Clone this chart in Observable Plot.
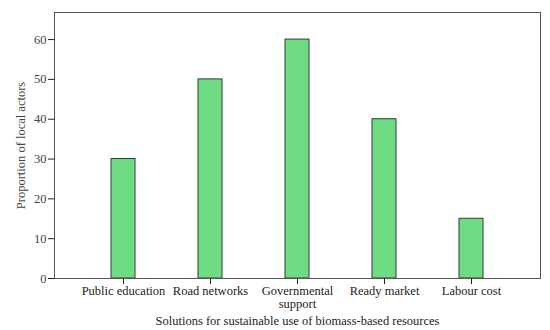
<!DOCTYPE html>
<html>
<head>
<meta charset="utf-8">
<script src="https://cdn.jsdelivr.net/npm/d3@7"></script>
<script src="https://cdn.jsdelivr.net/npm/@observablehq/plot@0.6"></script>
<style>
  html, body { margin: 0; padding: 0; background: white; }
</style>
</head>
<body>
<div id="chart"></div>
<script>
const categories = ["Public education", "Road networks", "Governmental support", "Ready market", "Labour cost"];
const values = [30, 50, 60, 40, 15];
const tickLabels = ["Public education", "Road networks", "Governmental\nsupport", "Ready market", "Labour cost"];
const yTicks = [0, 10, 20, 30, 40, 50, 60];

const data = categories.map((c, i) => ({category: c, value: values[i]}));

const chart = Plot.plot({
  width: 550,
  height: 330,
  marginLeft: 54,
  marginRight: 10,
  marginTop: 12,
  marginBottom: 52,
  style: {fontFamily: "'Liberation Serif', 'DejaVu Serif', serif", fontSize: "12.5px", background: "white", color: "#222"},
  x: {domain: categories, paddingInner: 0.724, paddingOuter: 0.655, label: null},
  y: {domain: [0, 66.8]},
  marks: [
    Plot.barY(data, {x: "category", y: "value", fill: "#6fdc85", stroke: "#2f3f33", strokeWidth: 1}),
    Plot.frame({stroke: "#555"}),
    Plot.axisY({ticks: yTicks, tickSize: 6, tickPadding: 2, label: "Proportion of local actors", labelAnchor: "center", labelArrow: "none", labelOffset: 38, fill: "#444"}),
    Plot.axisX({tickFormat: (d, i) => tickLabels[categories.indexOf(d)], tickSize: 6, tickPadding: 2, lineHeight: 1, label: "Solutions for sustainable use of biomass-based resources", labelAnchor: "center", labelArrow: "none", labelOffset: 46})
  ]
});
document.getElementById("chart").appendChild(chart);
</script>
</body>
</html>
